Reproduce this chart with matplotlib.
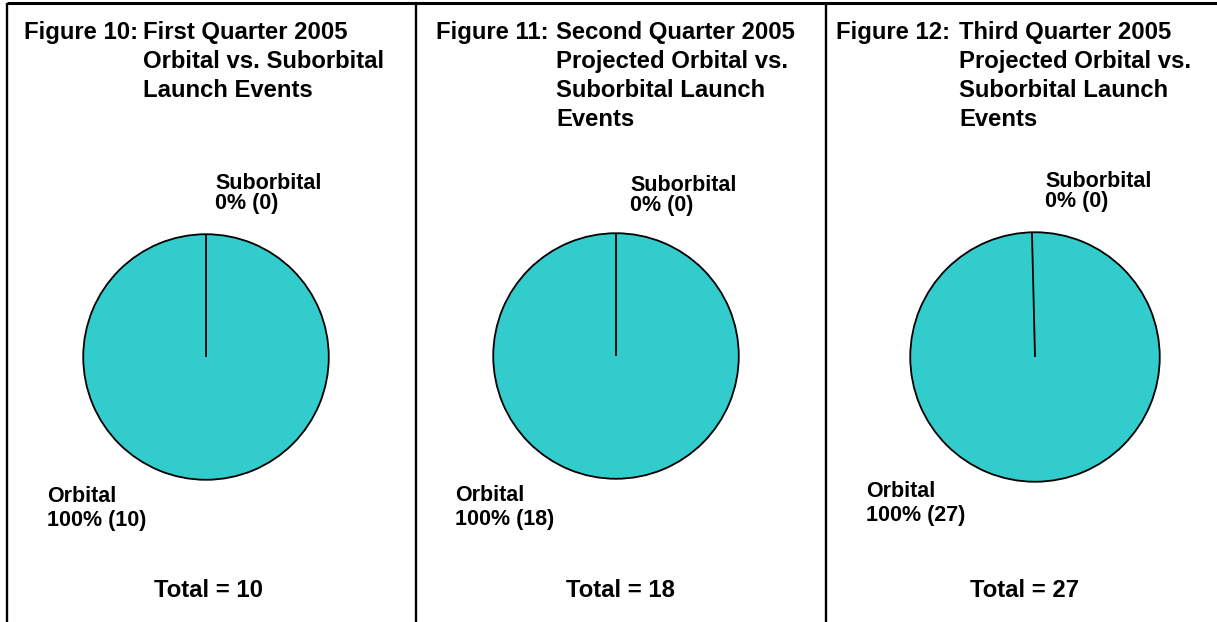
import matplotlib
matplotlib.use("Agg")
import matplotlib.pyplot as plt

plt.rcParams['font.family'] = ['Liberation Sans', 'DejaVu Sans']
plt.rcParams['font.weight'] = 'bold'

# data
fig_numbers = ["Figure 10:", "Figure 11:", "Figure 12:"]
title_lines = [
    ["First Quarter 2005", "Orbital vs. Suborbital", "Launch Events"],
    ["Second Quarter 2005", "Projected Orbital vs.", "Suborbital Launch", "Events"],
    ["Third Quarter 2005", "Projected Orbital vs.", "Suborbital Launch", "Events"],
]
categories = ["Orbital", "Suborbital"]
orbital = [10, 18, 27]
suborbital = [0, 0, 0]

W, H = 1217, 622
teal = '#33CCCC'

# layout (pixels)
panel_left = [7, 416, 826]
num_left = [24, 436, 836]
cont_x = [143, 556, 959]
pie_c = [(206, 357, 124), (616, 356, 124), (1035, 357, 126)]
start = [90, 90, 91.4]
sub_pos = [(215, 189), (630, 191), (1045, 187)]
orb_pos = [(47, 502), (455, 501), (866, 497)]
total_x = [208, 620, 1025]

fig = plt.figure(figsize=(W / 100, H / 100), dpi=100)
bg = fig.add_axes([0, 0, 1, 1])
bg.set_xlim(0, W)
bg.set_ylim(H, 0)
bg.axis('off')

bg.plot([panel_left[0], W], [3, 3], color='black', lw=2.2, solid_capstyle='butt')
for x in panel_left:
    bg.plot([x, x], [3, H], color='black', lw=1.7, solid_capstyle='butt')

title_fs = 17.2
label_fs = 15.5
line_h = 29

for i in range(3):
    total = orbital[i] + suborbital[i]
    # title
    bg.text(num_left[i], 39, fig_numbers[i], fontsize=title_fs, va='baseline', ha='left')
    for j, line in enumerate(title_lines[i]):
        bg.text(cont_x[i], 39 + j * line_h, line, fontsize=title_fs, va='baseline', ha='left')

    # pie
    cx, cy, r = pie_c[i]
    ax = fig.add_axes([(cx - r) / W, 1 - (cy + r) / H, 2 * r / W, 2 * r / H])
    ax.pie([orbital[i], suborbital[i]], colors=[teal, teal], startangle=start[i],
           wedgeprops=dict(edgecolor='black', linewidth=1.3))
    ax.set_xlim(-1.01, 1.01)
    ax.set_ylim(-1.01, 1.01)
    ax.set_facecolor('none')

    # labels
    pct_o = 100 * orbital[i] / total
    pct_s = 100 * suborbital[i] / total
    sx, sy = sub_pos[i]
    bg.text(sx, sy, categories[1], fontsize=label_fs, va='baseline')
    bg.text(sx, sy + 20, f"{pct_s:.0f}% ({suborbital[i]})", fontsize=label_fs, va='baseline')
    ox, oy = orb_pos[i]
    bg.text(ox, oy, categories[0], fontsize=label_fs, va='baseline')
    bg.text(ox, oy + 24, f"{pct_o:.0f}% ({orbital[i]})", fontsize=label_fs, va='baseline')

    bg.text(total_x[i], 597, f"Total = {total}", fontsize=title_fs, va='baseline', ha='center')

fig.savefig("out.png", dpi=100)
